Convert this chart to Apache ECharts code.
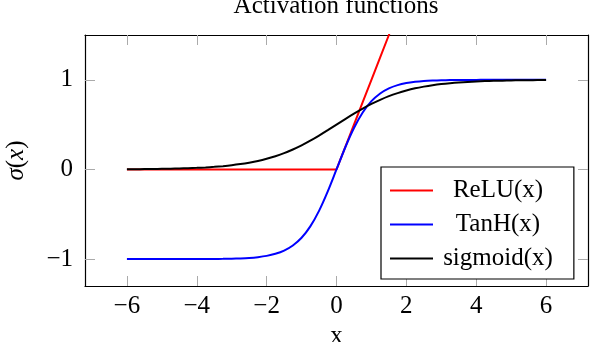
<!DOCTYPE html>
<html>
<head>
<meta charset="utf-8">
<script src="https://cdn.jsdelivr.net/npm/echarts@6/dist/echarts.min.js"></script>
<style>
  html, body { margin: 0; padding: 0; background: #fff; }
  #chart { width: 590px; height: 342px; }
</style>
</head>
<body>
<div id="chart"></div>
<script>
// sample positions along x
const xs = [
  -6, -5.75, -5.5, -5.25, -5, -4.75, -4.5, -4.25, -4, -3.75, -3.5, -3.25,
  -3, -2.75, -2.5, -2.25, -2, -1.75, -1.5, -1.25, -1, -0.75, -0.5, -0.25,
  0, 0.25, 0.5, 0.75, 1, 1.25, 1.5, 1.75, 2, 2.25, 2.5, 2.75,
  3, 3.25, 3.5, 3.75, 4, 4.25, 4.5, 4.75, 5, 5.25, 5.5, 5.75, 6
];
const reluValues = [
  0, 0, 0, 0, 0, 0, 0, 0, 0, 0, 0, 0,
  0, 0, 0, 0, 0, 0, 0, 0, 0, 0, 0, 0,
  0, 0.25, 0.5, 0.75, 1, 1.25, 1.5, 1.75, 2, 2.25, 2.5, 2.75,
  3, 3.25, 3.5, 3.75, 4, 4.25, 4.5, 4.75, 5, 5.25, 5.5, 5.75, 6
];
const tanhValues = [
  -1, -1, -1, -1, -1, -1, -1, -1, -0.999, -0.999, -0.998, -0.997,
  -0.995, -0.992, -0.987, -0.978, -0.964, -0.941, -0.905, -0.848, -0.762, -0.635, -0.462, -0.245,
  0, 0.245, 0.462, 0.635, 0.762, 0.848, 0.905, 0.941, 0.964, 0.978, 0.987, 0.992,
  0.995, 0.997, 0.998, 0.999, 0.999, 1, 1, 1, 1, 1, 1, 1, 1
];
const sigmoidValues = [
  0.002, 0.003, 0.004, 0.005, 0.007, 0.009, 0.011, 0.014, 0.018, 0.023, 0.029, 0.037,
  0.047, 0.060, 0.076, 0.095, 0.119, 0.148, 0.182, 0.223, 0.269, 0.321, 0.378, 0.438,
  0.5, 0.562, 0.622, 0.679, 0.731, 0.777, 0.818, 0.852, 0.881, 0.905, 0.924, 0.940,
  0.953, 0.963, 0.971, 0.977, 0.982, 0.986, 0.989, 0.991, 0.993, 0.995, 0.996, 0.997, 0.998
];
const seriesNames = ['ReLU(x)', 'TanH(x)', 'sigmoid(x)'];
const xTicks = [-6, -4, -2, 0, 2, 4, 6];
const yTicks = [-1, 0, 1];

const font = 'Liberation Serif';
const fs = 25;
const fmt = v => (v < 0 ? '\u2212' + Math.abs(v) : String(v));

const pairs = vals => xs.map((x, i) => [x, vals[i]]);

const frame = { show: true, onZero: false, lineStyle: { color: '#000', width: 1.2 } };
const tick = vals => ({
  show: true, inside: true, length: 10, customValues: vals,
  lineStyle: { color: '#aaa', width: 1 }
});

const chart = echarts.init(document.getElementById('chart'));
chart.setOption({
  animation: false,
  title: {
    text: 'Activation functions',
    left: 336, top: -6, padding: 0, textAlign: 'center',
    textStyle: { fontFamily: font, fontSize: fs, fontWeight: 'normal', color: '#000' }
  },
  grid: { left: 85, right: 2, top: 35, bottom: 56, containLabel: false, outerBoundsMode: 'none' },
  legend: {
    orient: 'vertical',
    left: 381, top: 167,
    padding: [11, 21, 8, 9],
    backgroundColor: '#fff',
    borderColor: '#000', borderWidth: 1.2, borderRadius: 0,
    itemWidth: 43, itemHeight: 2, itemGap: 9,
    icon: 'rect',
    data: seriesNames,
    formatter: name => '{a|' + name + '}',
    textStyle: {
      fontFamily: font, fontSize: fs, color: '#000',
      rich: { a: { width: 120, height: 25, align: 'center', fontFamily: font, fontSize: fs, color: '#000' } }
    }
  },
  xAxis: [
    {
      type: 'value', position: 'bottom', min: -7.2, max: 7.2,
      axisLine: frame, axisTick: tick(xTicks), splitLine: { show: false },
      axisLabel: { customValues: xTicks, formatter: fmt, margin: 8, fontFamily: font, fontSize: fs, color: '#000' },
      name: 'x', nameLocation: 'middle', nameGap: 33,
      nameTextStyle: { fontFamily: font, fontSize: fs, color: '#000' }
    },
    {
      type: 'value', position: 'top', min: -7.2, max: 7.2,
      axisLine: frame, axisTick: tick(xTicks), axisLabel: { show: false }, splitLine: { show: false }
    }
  ],
  yAxis: [
    {
      type: 'value', position: 'left', min: -1.3, max: 1.5,
      axisLine: frame, axisTick: tick(yTicks), splitLine: { show: false },
      axisLabel: { customValues: yTicks, formatter: fmt, margin: 12, fontFamily: font, fontSize: fs, color: '#000' },
      name: '{i|\u03c3}({i|x})', nameLocation: 'middle', nameGap: 56,
      nameTextStyle: {
        fontFamily: font, fontSize: fs, color: '#000',
        rich: { i: { fontFamily: font, fontSize: fs, fontStyle: 'italic', color: '#000' } }
      }
    },
    {
      type: 'value', position: 'right', min: -1.3, max: 1.5,
      axisLine: frame, axisTick: tick(yTicks), axisLabel: { show: false }, splitLine: { show: false }
    }
  ],
  series: [
    { name: seriesNames[0], type: 'line', data: pairs(reluValues), showSymbol: false, symbol: 'none',
      color: '#ff0000', lineStyle: { color: '#ff0000', width: 2 } },
    { name: seriesNames[1], type: 'line', data: pairs(tanhValues), showSymbol: false, symbol: 'none',
      smooth: 0.3,
      color: '#0000ff', lineStyle: { color: '#0000ff', width: 2 } },
    { name: seriesNames[2], type: 'line', data: pairs(sigmoidValues), showSymbol: false, symbol: 'none',
      smooth: 0.3,
      color: '#000000', lineStyle: { color: '#000000', width: 2 } }
  ]
});
</script>
</body>
</html>
